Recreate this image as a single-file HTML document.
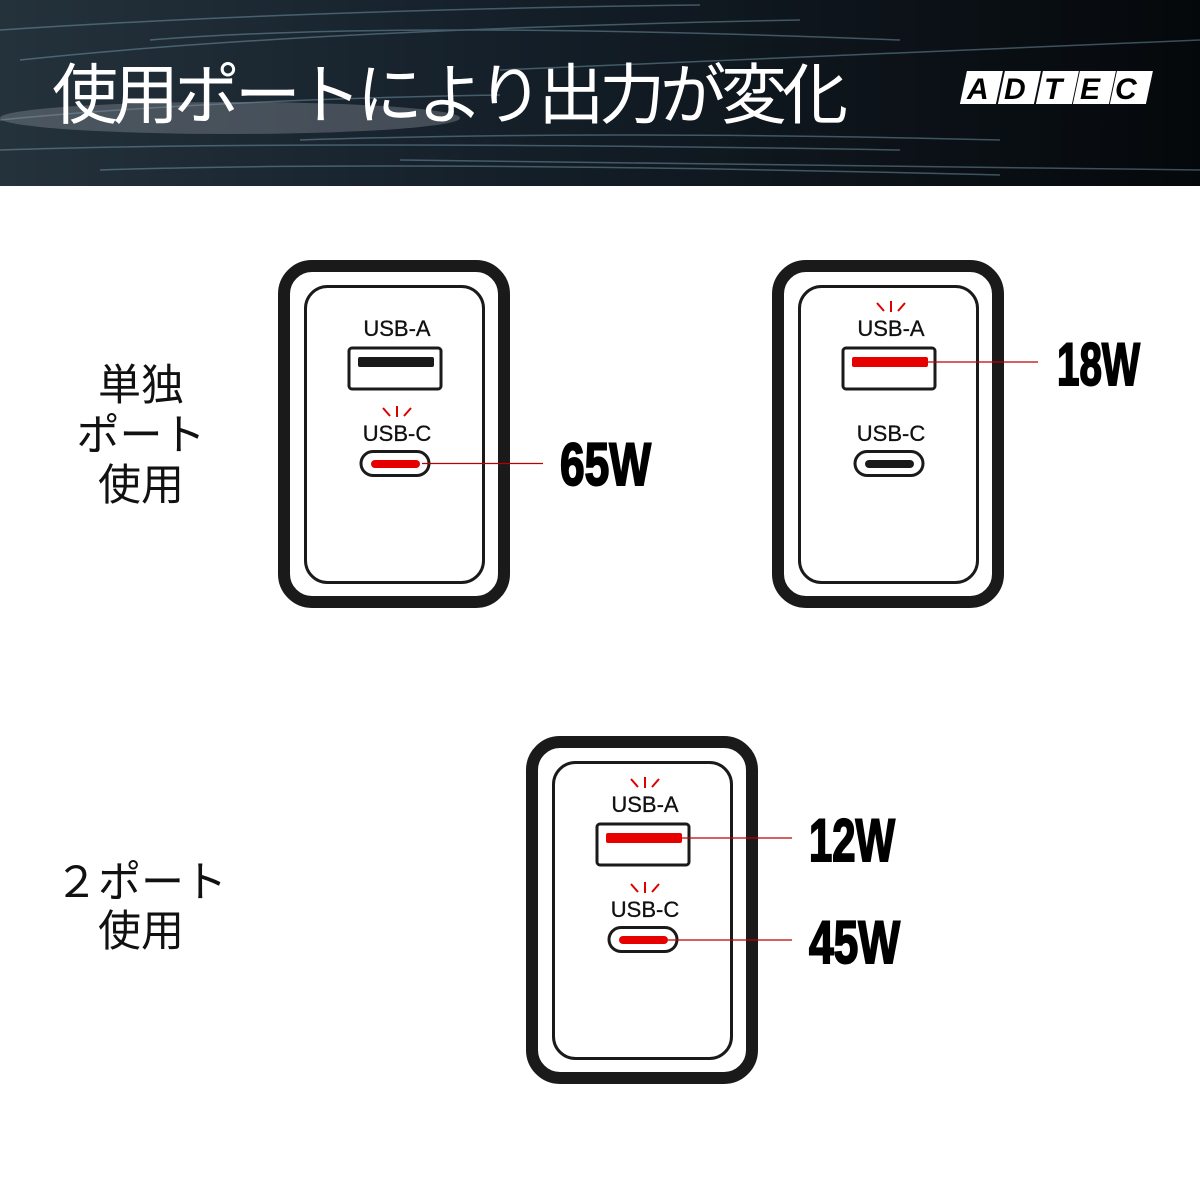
<!DOCTYPE html>
<html><head><meta charset="utf-8"><style>
html,body{margin:0;padding:0;background:#fff;width:1200px;height:1200px;overflow:hidden}
</style></head><body>
<svg width="1200" height="1200" viewBox="0 0 1200 1200" xmlns="http://www.w3.org/2000/svg">
<defs>
<linearGradient id="bg" x1="0" y1="0" x2="1" y2="0">
<stop offset="0" stop-color="#24323b"/><stop offset="0.4" stop-color="#15202a"/><stop offset="1" stop-color="#05080b"/>
</linearGradient>
<g id="chg">
<rect x="284" y="266" width="220" height="336" rx="28" fill="#fff" stroke="#1a1a1a" stroke-width="12"/>
<rect x="305.5" y="286.5" width="178" height="296" rx="22" fill="#fff" stroke="#1a1a1a" stroke-width="3"/>
<rect x="349" y="348" width="92" height="41" rx="3" fill="#fff" stroke="#1a1a1a" stroke-width="3"/>
<rect x="361" y="451.5" width="68" height="24" rx="12" fill="#fff" stroke="#1a1a1a" stroke-width="3"/>
</g>
</defs>
<rect x="0" y="0" width="1200" height="186" fill="url(#bg)"/>
<g stroke="#7fa6b8" stroke-width="1.5" opacity="0.45" fill="none">
<path d="M0 30 Q300 10 700 5"/><path d="M20 60 Q300 30 800 20"/><path d="M0 150 Q300 140 900 150"/>
<path d="M100 170 Q400 160 1000 175"/><path d="M150 40 Q400 20 900 40"/><path d="M0 120 Q200 100 500 95"/>
<path d="M300 140 Q600 130 1000 140"/><path d="M500 70 Q700 60 1200 40"/><path d="M400 160 Q700 165 1200 170"/>
</g>
<ellipse cx="230" cy="118" rx="230" ry="16" fill="#8a8f98" opacity="0.4"/>
<text x="52" y="118" font-family="'Liberation Sans','Noto Sans CJK JP',sans-serif" font-size="66" fill="#fff" textLength="796">使用ポートにより出力が変化</text>
<g font-family="'Liberation Sans',sans-serif" font-weight="bold" font-style="italic" font-size="30">
<rect x="962" y="71" width="36" height="33" fill="#fff" transform="skewX(-12) translate(20 0)"/>
<rect x="1000" y="71" width="36" height="33" fill="#fff" transform="skewX(-12) translate(20 0)"/>
<rect x="1038" y="71" width="36" height="33" fill="#fff" transform="skewX(-12) translate(20 0)"/>
<rect x="1075" y="71" width="36" height="33" fill="#fff" transform="skewX(-12) translate(20 0)"/>
<rect x="1112" y="71" width="36" height="33" fill="#fff" transform="skewX(-12) translate(20 0)"/>
<text x="967" y="99" fill="#000">A</text><text x="1004" y="99" fill="#000">D</text><text x="1044" y="99" fill="#000">T</text><text x="1080" y="99" fill="#000">E</text><text x="1115" y="99" fill="#000">C</text>
</g>

<g font-family="'Liberation Sans','Noto Sans CJK JP',sans-serif" font-size="43" fill="#111" text-anchor="middle">
<text x="141" y="400">単独</text><text x="141" y="450">ポート</text><text x="141" y="500">使用</text>
<text x="141" y="897">２ポート</text><text x="141" y="946">使用</text>
</g>

<use href="#chg"/>
<use href="#chg" transform="translate(494 0)"/>
<use href="#chg" transform="translate(248 476)"/>

<g font-family="'Liberation Sans',sans-serif" font-size="22" fill="#111" text-anchor="middle" stroke="#111" stroke-width="0.3">
<text x="397" y="336">USB-A</text><text x="397" y="441">USB-C</text>
<text x="891" y="336">USB-A</text><text x="891" y="441">USB-C</text>
<text x="645" y="812">USB-A</text><text x="645" y="917">USB-C</text>
</g>
<rect x="358" y="357" width="76" height="10" rx="2" fill="#1a1a1a"/>
<rect x="371" y="460" width="49" height="8" rx="4" fill="#e60000"/>
<rect x="852" y="357" width="76" height="10" rx="2" fill="#e60000"/>
<rect x="865" y="460" width="49" height="8" rx="4" fill="#1a1a1a"/>
<rect x="606" y="833" width="76" height="10" rx="2" fill="#e60000"/>
<rect x="619" y="936" width="49" height="8" rx="4" fill="#e60000"/>
<g stroke="#d00" stroke-width="2">
<path d="M397 406v11M383 408l7 8M411 408l-7 8"/>
<path d="M891 301v11M877 303l7 8M905 303l-7 8"/>
<path d="M645 777v11M631 779l7 8M659 779l-7 8"/>
<path d="M645 882v11M631 884l7 8M659 884l-7 8"/>
</g>
<g stroke="#b00" stroke-width="1.3">
<line x1="422" y1="463.5" x2="543" y2="463.5"/>
<line x1="928" y1="362" x2="1038" y2="362"/>
<line x1="682" y1="838" x2="792" y2="838"/>
<line x1="668" y1="940" x2="792" y2="940"/>
</g>
<g font-family="'Liberation Sans Narrow','Liberation Sans',sans-serif" font-weight="bold" font-size="60" fill="#000" stroke="#000" stroke-width="2">
<text x="560" y="485" textLength="91" lengthAdjust="spacingAndGlyphs">65W</text>
<text x="1057" y="385" textLength="83" lengthAdjust="spacingAndGlyphs">18W</text>
<text x="809" y="861" textLength="86" lengthAdjust="spacingAndGlyphs">12W</text>
<text x="809" y="963" textLength="91" lengthAdjust="spacingAndGlyphs">45W</text>
</g>
</svg>
</body></html>
